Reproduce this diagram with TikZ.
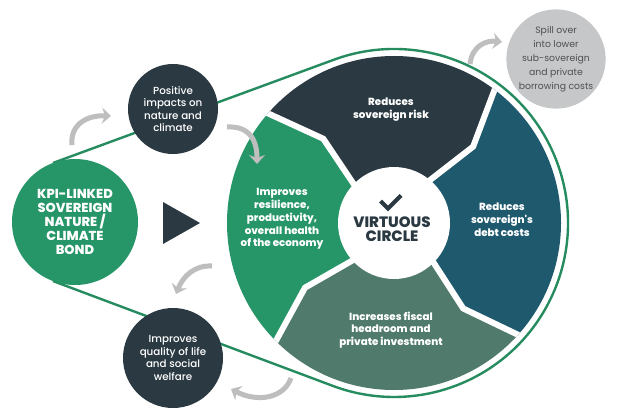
\documentclass[tikz,border=0pt]{standalone}
\usepackage{fontspec}
\setmainfont{Poppins}
\newfontfamily\xbold{Poppins ExtraBold}
\newfontfamily\medium{Poppins Medium}
\usetikzlibrary{calc,arrows.meta}
\definecolor{kgreen}{RGB}{38,150,104}
\definecolor{outl}{RGB}{38,140,96}
\definecolor{kdark}{RGB}{43,57,66}
\definecolor{kteal}{RGB}{31,89,110}
\definecolor{kgg}{RGB}{79,122,108}
\definecolor{kgraycirc}{RGB}{197,199,201}
\definecolor{karrow}{RGB}{190,190,190}
\definecolor{ktext}{RGB}{80,80,80}
\tikzset{
  segtext/.style={text=white, font=\xbold\fontsize{10.3}{12.8}\selectfont, align=center},
  bubble/.style={circle, fill=kdark, inner sep=0pt, text=white, align=center, font=\medium\fontsize{10.3}{12.4}\selectfont},
  garrow/.style={draw=karrow, line width=5pt, -{Stealth[length=9pt,width=16pt,inset=3pt]}},
  sep/.style={white, line width=6pt, line join=miter}
}
\begin{document}
\begin{tikzpicture}[x=1pt,y=1pt]
\useasboundingbox (0,0) rectangle (617,416);
\fill[white] (0,0) rectangle (617,416);

\coordinate (wc) at (394,193);
\coordinate (kc) at (75,194);

% outline belt
\draw[outl, line width=2.4pt] ($(kc)+(110.4:63)$) -- ($(wc)+(110.4:174)$)
  arc[start angle=110.4, end angle=-110.4, radius=174] -- ($(kc)+(-110.4:63)$);

% wheel
\begin{scope}[shift={(394,193)}]
  \clip (0,0) circle (167);
  \fill[kgreen] (141:50) -- (130:110) -- (141:185) arc[start angle=141, end angle=227, radius=185] -- (216:110) -- (227:50) -- cycle;
  \fill[kdark] (55:50) -- (44:110) -- (55:185) arc[start angle=55, end angle=141, radius=185] -- (130:110) -- (141:50) -- cycle;
  \fill[kteal] (-40:50) -- (-51:110) -- (-40:185) arc[start angle=-40, end angle=55, radius=185] -- (44:110) -- (55:50) -- cycle;
  \fill[kgg] (-133:50) -- (-144:110) -- (-133:185) arc[start angle=-133, end angle=-40, radius=185] -- (-51:110) -- (-40:50) -- cycle;
  \draw[sep] (141:40) -- (130:110) -- (141:190);
  \draw[sep] (55:40) -- (44:110) -- (55:190);
  \draw[sep] (-40:40) -- (-51:110) -- (-40:190);
  \draw[sep] (-133:40) -- (-144:110) -- (-133:190);
  \fill[white] (0,0) circle (56);
\end{scope}

% center
\draw[kdark, line width=4pt] (380.5,215) coordinate (ck1) -- (388,207.5) coordinate (ck2) -- (401,220.5) coordinate (ck3);
\node[text=kdark, font=\xbold\fontsize{15}{14}\selectfont, align=center] (vc) at (392,186.5) {VIRTUOUS\\CIRCLE};

% segment texts
\node[segtext] (t1) at (391,306) {Reduces\\sovereign risk};
\node[segtext] (t2) at (502,196) {Reduces\\sovereign's\\debt costs};
\node[segtext] (t3) at (391,86) {Increases fiscal\\headroom and\\private investment};
\node[segtext] (t4) at (282,197) {Improves\\resilience,\\productivity,\\overall health\\of the economy};

% KPI circle
\node[circle, fill=kgreen, minimum size=126pt, inner sep=0pt, text=white, align=center,
      font=\xbold\fontsize{13}{14}\selectfont] (kpi) at (kc) {KPI-LINKED\\SOVEREIGN\\NATURE /\\CLIMATE\\BOND};

% play triangle
\fill[kdark] (163,214) -- (163,172) -- (200,193) -- cycle;

% bubbles
\node[bubble, minimum size=90pt] (pos) at (173,307) {Positive\\impacts on\\nature and\\climate};
\node[bubble, minimum size=100pt] (qol) at (173,58) {Improves\\quality of life\\and social\\welfare};
\node[circle, fill=kgraycirc, minimum size=94pt, inner sep=0pt, text=ktext, align=center,
      font=\fontsize{9.3}{14}\selectfont] (spill) at (556,357) {Spill over\\into lower\\sub-sovereign\\and private\\borrowing costs};

% curved arrows
\coordinate (a1s) at (72,271); \coordinate (a1e) at (111,300);
\draw[garrow] (a1s) .. controls (70,290) and (85,301) .. (a1e);
\coordinate (a2s) at (227,289); \coordinate (a2e) at (257,252);
\draw[garrow] (a2s) .. controls (246,290) and (257,280) .. (a2e);
\coordinate (a3s) at (212,150); \coordinate (a3e) at (176,122);
\draw[garrow] (a3s) .. controls (195,151) and (183,140) .. (a3e);
\coordinate (a4s) at (291,38); \coordinate (a4e) at (231,27);
\draw[garrow] (a4s) .. controls (284,18) and (258,13) .. (a4e);
\coordinate (a5s) at (470,352); \coordinate (a5e) at (502,374);
\draw[garrow] (a5s) .. controls (472,370) and (486,376) .. (a5e);
\end{tikzpicture}
\end{document}
